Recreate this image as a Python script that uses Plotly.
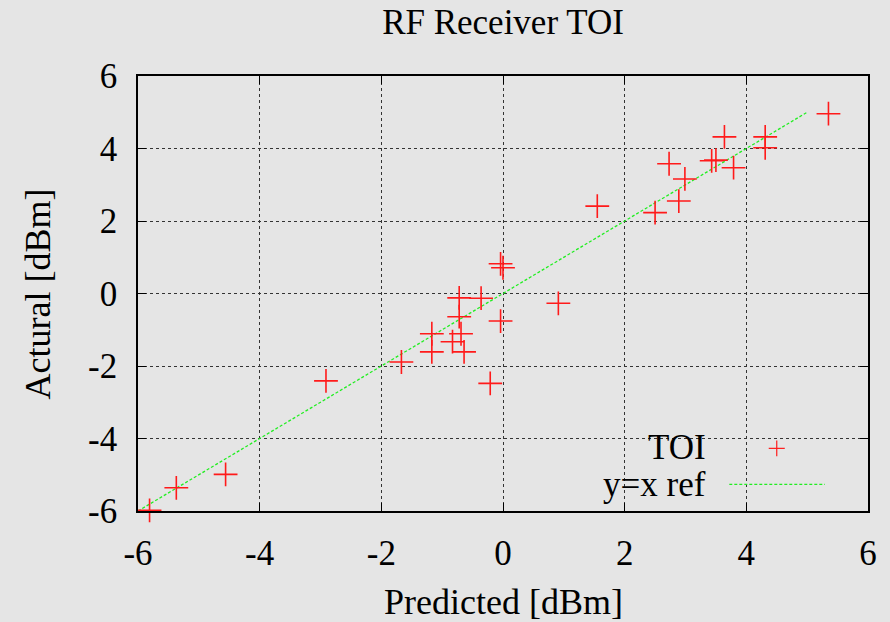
import plotly.graph_objects as go

predicted = [-5.81, -5.37, -4.56, -2.91, -1.67, -1.17, -1.17, -0.83, -0.64, -0.69,
             -0.72, -0.72, -0.36, -0.21, -0.04, -0.04, 0.00, 0.91, 1.55, 2.50,
             2.89, 2.99, 2.73, 3.43, 3.50, 3.64, 3.79, 4.31, 4.31, 5.35]
actual = [-5.98, -5.36, -4.99, -2.41, -1.89, -1.61, -1.11, -1.33, -1.61, -1.11,
          -0.64, -0.12, -0.13, -2.48, -0.76, 0.82, 0.71, -0.27, 2.41, 2.23,
          2.55, 3.16, 3.58, 3.66, 3.68, 4.32, 3.47, 4.32, 4.02, 4.96]
ref_x = [-6, 5]
ref_y = [-6, 5]
x_ticks = [-6, -4, -2, 0, 2, 4, 6]
y_ticks = [-6, -4, -2, 0, 2, 4, 6]

BG = "#e5e5e5"
FONT = "Liberation Serif"

fig = go.Figure()
fig.add_trace(go.Scatter(
    x=ref_x, y=ref_y, mode="lines", name="y=x ref",
    line=dict(color="#22ee22", width=1.3, dash="3px,2px"), showlegend=False))
fig.add_trace(go.Scatter(
    x=predicted, y=actual, mode="markers", name="TOI", cliponaxis=False,
    marker=dict(symbol="cross-thin", size=17, line=dict(color="#ff1a1a", width=1.6)),
    showlegend=False))

axis_common = dict(
    showgrid=True, gridcolor="#333333", griddash="dot", gridwidth=1,
    zeroline=False, showline=True, linecolor="black", linewidth=1.5,
    mirror="ticks", ticks="inside", ticklen=8, tickcolor="black", tickwidth=1.2,
    tickfont=dict(family=FONT, size=35, color="black"),
)

fig.update_xaxes(range=[-6, 6], tickvals=x_ticks, ticktext=[str(v) for v in x_ticks],
                 ticklabelstandoff=10, **axis_common)
fig.update_yaxes(range=[-6, 6], tickvals=y_ticks, ticktext=[str(v) for v in y_ticks],
                 ticklabelstandoff=12, **axis_common)

# legend box (opaque key area)
fig.add_shape(type="rect", xref="paper", yref="paper", x0=0.574, x1=1.0, y0=0.0, y1=0.183,
              fillcolor=BG, line=dict(width=0), layer="between")
# legend samples
fig.add_shape(type="line", xref="paper", yref="paper", x0=0.864, x1=0.886, y0=0.144, y1=0.144,
              line=dict(color="#ff1a1a", width=1.2))
fig.add_shape(type="line", xref="paper", yref="paper", x0=0.875, x1=0.875, y0=0.126, y1=0.162,
              line=dict(color="#ff1a1a", width=1.2))
fig.add_shape(type="line", xref="paper", yref="paper", x0=0.81, x1=0.941, y0=0.061, y1=0.061,
              line=dict(color="#22ee22", width=1.2, dash="3px,2px"))

fig.add_annotation(text="TOI", xref="paper", yref="paper", x=0.781, y=0.145,
                   xanchor="right", yanchor="middle", showarrow=False,
                   font=dict(family=FONT, size=35, color="black"))
fig.add_annotation(text="y=x ref", xref="paper", yref="paper", x=0.781, y=0.061,
                   xanchor="right", yanchor="middle", showarrow=False,
                   font=dict(family=FONT, size=35, color="black"))

# axis titles
fig.add_annotation(text="Predicted [dBm]", xref="paper", yref="paper", x=0.5, y=-0.21,
                   xanchor="center", yanchor="middle", showarrow=False,
                   font=dict(family=FONT, size=36, color="black"))
fig.add_annotation(text="Actural [dBm]", xref="paper", yref="paper", x=-0.137, y=0.5,
                   xanchor="center", yanchor="middle", showarrow=False, textangle=-90,
                   font=dict(family=FONT, size=36, color="black"))

fig.update_layout(
    width=890, height=622, autosize=False,
    margin=dict(l=138, r=22, t=76, b=111),
    paper_bgcolor=BG, plot_bgcolor=BG,
    title=dict(text="RF Receiver TOI", x=0.5, xref="paper", y=1 - 22 / 622,
               yref="container", xanchor="center", yanchor="middle",
               font=dict(family=FONT, size=35, color="black")),
    showlegend=False,
)

fig.write_html("out.html", config={"displayModeBar": False},
               post_script="document.body.style.margin='0';document.body.style.overflow='hidden';")
